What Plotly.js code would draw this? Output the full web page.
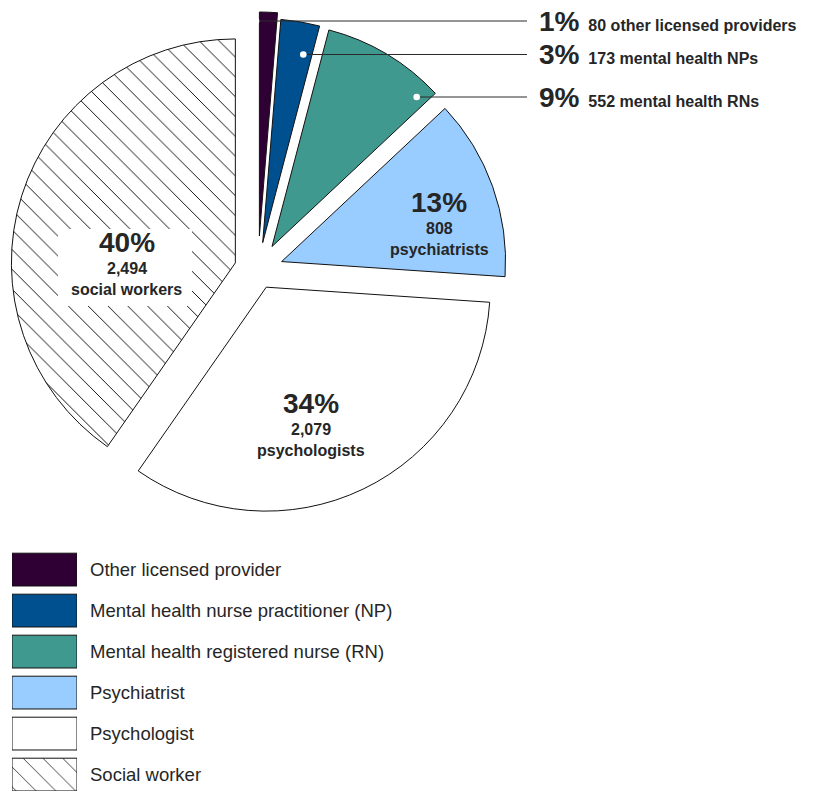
<!DOCTYPE html>
<html>
<head>
<meta charset="utf-8">
<script src="https://cdn.plot.ly/plotly-3.0.1.min.js"></script>
<style>html,body{margin:0;padding:0;background:#fff}#chart{width:815px;height:791px}</style>
</head>
<body>
<div id="chart"></div>
<script>
// ---- data ----
const labels = ['Other licensed provider', 'Mental health nurse practitioner (NP)', 'Mental health registered nurse (RN)', 'Psychiatrist', 'Psychologist', 'Social worker'];
const counts = [80, 173, 552, 808, 2079, 2494];
const shortNames = ['other licensed providers', 'mental health NPs', 'mental health RNs', 'psychiatrists', 'psychologists', 'social workers'];
const colors = ['#2e0033', '#00508f', '#40998f', '#99ccff', '#ffffff', '#ffffff'];

// ---- helpers ----
const W = 815, H = 791;
const X = p => p / W;
const Y = p => 1 - p / H;
const total = counts.reduce((a, b) => a + b, 0);
const pct = i => Math.round(counts[i] / total * 100) + '%';
const fmt = n => n.toLocaleString('en-US');
const FONT = 'Liberation Sans, Arial, sans-serif';
const TXT = '#262626';
const LINE = '#111111';
const hatch = {
  shape: ['', '', '', '', '', '\\'],
  fillmode: 'overlay',
  fgcolor: '#111111',
  fgopacity: 1,
  size: 14,
  solidity: 0.07
};

const pie = {
  type: 'pie',
  labels: labels,
  values: counts,
  sort: false,
  direction: 'clockwise',
  rotation: 0,
  textinfo: 'none',
  hoverinfo: 'skip',
  showlegend: false,
  pull: [0.152, 0.124, 0.122, 0.112, 0.085, 0.106],
  marker: {
    colors: colors,
    line: {color: LINE, width: 1},
    pattern: hatch
  },
  domain: {x: [0, 516 / W], y: [Y(530), Y(10)]}
};

const legendBars = {
  type: 'bar',
  orientation: 'h',
  y: labels,
  x: labels.map(() => 1),
  base: 0,
  width: 0.8,
  hoverinfo: 'skip',
  showlegend: false,
  marker: {
    color: colors,
    line: {color: LINE, width: 1},
    pattern: hatch
  },
  xaxis: 'x',
  yaxis: 'y'
};

// ---- annotations ----
const ann = [];
function lab(text, x, y, size) {
  ann.push({text: '<b>' + text + '</b>', x: X(x), y: Y(y), xref: 'paper', yref: 'paper',
    xanchor: 'center', yanchor: 'middle', showarrow: false,
    font: {family: FONT, size: size, color: TXT}});
}
// inside labels
const inside = [[3, 439, 203], [4, 311, 403.5], [5, 127, 243]];
inside.forEach(([i, x, y]) => {
  lab(pct(i), x, y, 28);
  lab(fmt(counts[i]), x, y + 25.5, 16);
  lab(shortNames[i], x, y + 46.5, 16);
});
// outside labels
const outside = [[0, 21, 256], [1, 54.5, 303.3], [2, 97, 416.7]];
const shapes = [];
outside.forEach(([i, y, dx]) => {
  ann.push({
    text: '<b><span style="font-size:28px">' + pct(i) + '</span>&nbsp; ' + fmt(counts[i]) + ' ' + shortNames[i] + '</b>',
    x: X(537), y: Y(y), xref: 'paper', yref: 'paper', xanchor: 'left', yanchor: 'middle',
    showarrow: false, font: {family: FONT, size: 16, color: TXT}
  });
  shapes.push({type: 'line', xref: 'paper', yref: 'paper', x0: X(dx), x1: X(527), y0: Y(y), y1: Y(y),
    line: {color: '#2a2a2a', width: 1}, layer: 'above'});
  shapes.push({type: 'circle', xref: 'paper', yref: 'paper', x0: X(dx - 3.3), x1: X(dx + 3.3), y0: Y(y - 3.3), y1: Y(y + 3.3),
    fillcolor: '#ffffff', line: {width: 0}, layer: 'above'});
});
// white box behind social worker label
shapes.push({type: 'rect', xref: 'paper', yref: 'paper', x0: X(58), x1: X(192), y0: Y(229), y1: Y(306),
  fillcolor: '#ffffff', line: {width: 0}, layer: 'above'});

const layout = {
  width: W, height: H,
  margin: {l: 0, r: 0, t: 0, b: 0},
  paper_bgcolor: '#ffffff', plot_bgcolor: '#ffffff',
  showlegend: false,
  xaxis: {domain: [X(12), X(77)], range: [0, 1], visible: false, fixedrange: true},
  yaxis: {
    domain: [0, Y(549.1)], type: 'category', range: [5.4, -0.5],
    side: 'right', showgrid: false, zeroline: false, showline: false, ticks: '',
    ticklabelstandoff: 12, fixedrange: true,
    tickfont: {family: FONT, size: 18.5, color: TXT}
  },
  annotations: ann,
  shapes: shapes
};

Plotly.newPlot('chart', [legendBars, pie], layout, {displayModeBar: false, staticPlot: true});
</script>
</body>
</html>
